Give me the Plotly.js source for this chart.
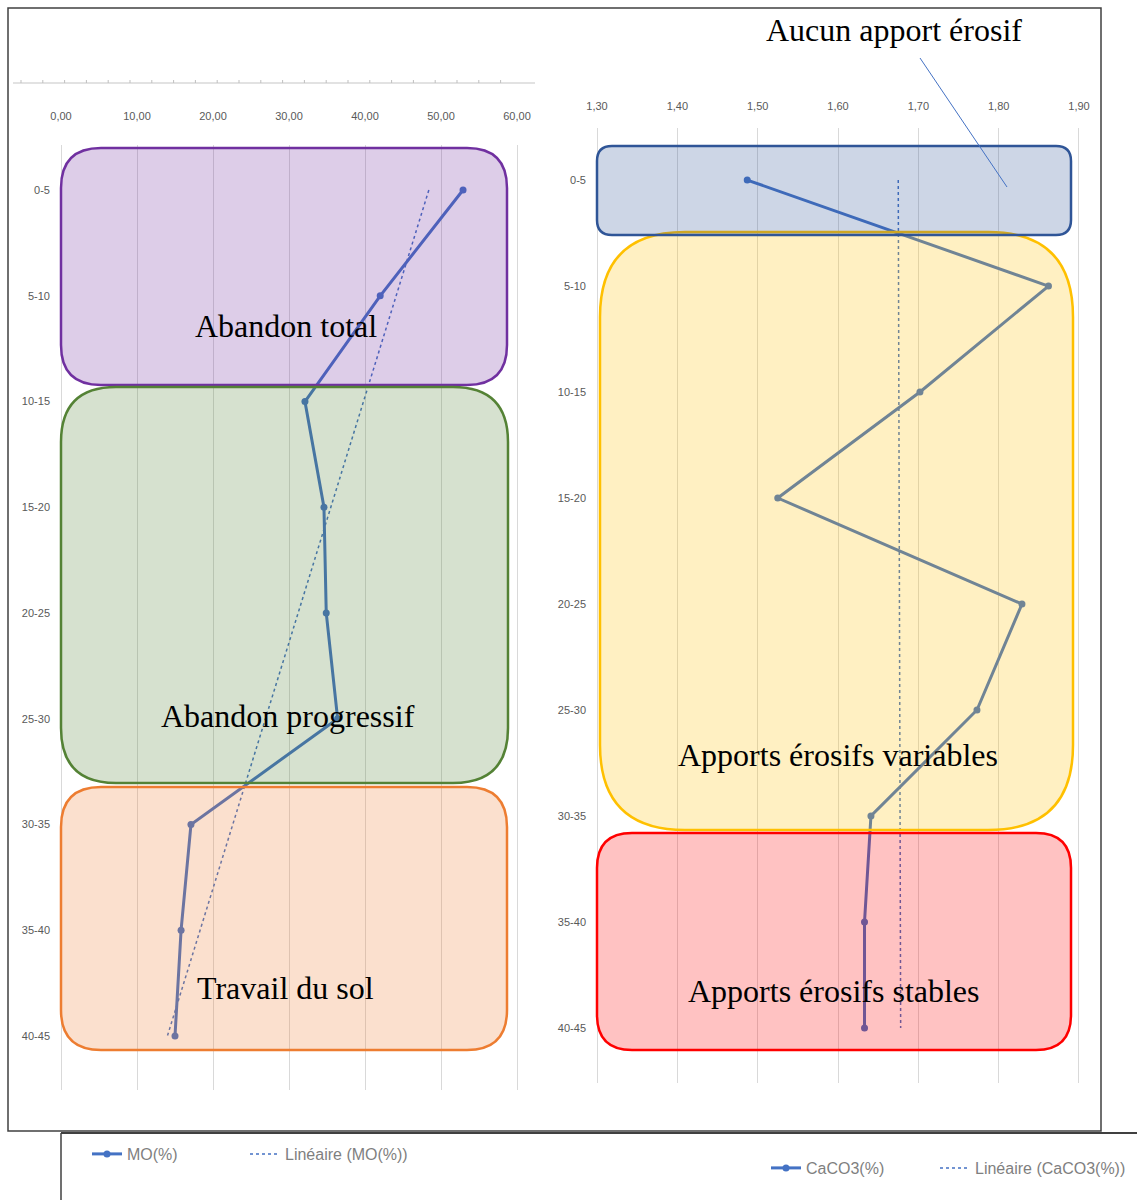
<!DOCTYPE html>
<html>
<head>
<meta charset="utf-8">
<script src="https://cdn.plot.ly/plotly-3.0.1.min.js"></script>
<style>
  body { margin: 0; background: #fff; }
  #graph { width: 1137px; height: 1200px; }
</style>
</head>
<body>
<div id="graph"></div>
<script>
// profondeurs (cm)
var profondeur = ['0-5', '5-10', '10-15', '15-20', '20-25', '25-30', '30-35', '35-40', '40-45'];
// matiere organique (%)
var mo = [52.9, 42.0, 32.1, 34.6, 34.9, 36.4, 17.1, 15.8, 15.0];
// carbonates (%)
var caco3 = [1.487, 1.862, 1.702, 1.525, 1.829, 1.773, 1.641, 1.633, 1.633];
// tendances lineaires (debut / fin)
var trendProf = ['0-5', '40-45'];
var trendMO = [48.4, 14.0];
var trendCaCO3 = [1.675, 1.678];

var W = 1137, H = 1200;
function px(x) { return x / W; }
function py(y) { return 1 - y / H; }

// rectangle arrondi en coordonnees papier, a partir de pixels
function roundRect(x0, y0, x1, y1, r) {
  var p = [];
  p.push('M' + px(x0 + r) + ',' + py(y0));
  p.push('L' + px(x1 - r) + ',' + py(y0));
  p.push('Q' + px(x1) + ',' + py(y0) + ' ' + px(x1) + ',' + py(y0 + r));
  p.push('L' + px(x1) + ',' + py(y1 - r));
  p.push('Q' + px(x1) + ',' + py(y1) + ' ' + px(x1 - r) + ',' + py(y1));
  p.push('L' + px(x0 + r) + ',' + py(y1));
  p.push('Q' + px(x0) + ',' + py(y1) + ' ' + px(x0) + ',' + py(y1 - r));
  p.push('L' + px(x0) + ',' + py(y0 + r));
  p.push('Q' + px(x0) + ',' + py(y0) + ' ' + px(x0 + r) + ',' + py(y0));
  p.push('Z');
  return p.join(' ');
}

function zone(x0, y0, x1, y1, r, rgb) {
  return {
    type: 'path', xref: 'paper', yref: 'paper', layer: 'above',
    path: roundRect(x0, y0, x1, y1, r),
    fillcolor: 'rgba(' + rgb + ',0.24)',
    line: { color: 'rgb(' + rgb + ')', width: 2.5 }
  };
}

function seg(x0, y0, x1, y1, color, width) {
  return {
    type: 'line', xref: 'paper', yref: 'paper', layer: 'above',
    x0: px(x0), y0: py(y0), x1: px(x1), y1: py(y1),
    line: { color: color, width: width }
  };
}

var blue = '#4472C4';

var traces = [
  {
    x: mo, y: profondeur, name: 'MO(%)', type: 'scatter', mode: 'lines+markers',
    xaxis: 'x', yaxis: 'y', legend: 'legend', showlegend: true,
    line: { color: blue, width: 3 }, marker: { color: blue, size: 7 }
  },
  {
    x: trendMO, y: trendProf, name: 'Linéaire (MO(%))', type: 'scatter', mode: 'lines',
    xaxis: 'x', yaxis: 'y', legend: 'legend3', showlegend: true,
    line: { color: blue, width: 1.5, dash: 'dot' }
  },
  {
    x: caco3, y: profondeur, name: 'CaCO3(%)', type: 'scatter', mode: 'lines+markers',
    xaxis: 'x2', yaxis: 'y2', legend: 'legend2', showlegend: true,
    line: { color: blue, width: 3 }, marker: { color: blue, size: 7 }
  },
  {
    x: trendCaCO3, y: trendProf, name: 'Linéaire (CaCO3(%))', type: 'scatter', mode: 'lines',
    xaxis: 'x2', yaxis: 'y2', legend: 'legend4', showlegend: true,
    line: { color: blue, width: 1.5, dash: 'dot' }
  }
];

var tickFont = { family: 'Liberation Sans Narrow, Liberation Sans, sans-serif', size: 11, color: '#595959' };
var legFont = { family: 'Liberation Sans Narrow, Liberation Sans, sans-serif', size: 16, color: '#7F7F7F' };
var grid = '#D9D9D9';

var shapes = [
  // zones gauche
  zone(61, 148, 507, 385, 40, '112,48,160'),
  zone(61, 387, 508, 783, 55, '84,130,53'),
  zone(61, 787, 507, 1050, 40, '237,125,49'),
  // zones droite
  zone(600, 232, 1073, 830, 85, '255,192,0'),
  zone(597, 146, 1071, 235, 15, '47,85,151'),
  zone(597, 833, 1071, 1050, 35, '255,0,0'),
  // trait de l'etiquette
  seg(920, 58, 1007, 187, blue, 1),
  // cadres
  { type: 'rect', xref: 'paper', yref: 'paper', layer: 'above',
    x0: px(8), y0: py(1131), x1: px(1101), y1: py(8),
    line: { color: '#404040', width: 1.5 } },
  seg(61, 1133, 1137, 1133, '#404040', 2),
  seg(61, 1133, 61, 1200, '#404040', 1.5),
  // ancien axe en haut a gauche
  seg(13, 83, 535, 83, grid, 1.5)
];
for (var tx = 21; tx <= 522; tx += 21.8) {
  shapes.push(seg(tx, 80, tx, 83, '#BFBFBF', 1));
}

var serif = { family: 'Liberation Serif, Times New Roman, serif', size: 32, color: '#000' };
function label(text, x, y) {
  return { text: text, xref: 'paper', yref: 'paper', x: px(x), y: py(y),
    xanchor: 'center', yanchor: 'middle', showarrow: false, font: serif };
}

function leg(x, y) {
  return { orientation: 'h', x: px(x), y: py(y), xanchor: 'left', yanchor: 'top',
    visible: true, bgcolor: 'rgba(0,0,0,0)', font: legFont };
}

var layout = {
  width: W, height: H,
  margin: { l: 0, r: 0, t: 0, b: 0 },
  paper_bgcolor: '#fff', plot_bgcolor: 'rgba(0,0,0,0)',
  separators: ', ',
  showlegend: true,
  // axes un peu elargis pour que les quadrillages des bords restent visibles
  xaxis: {
    domain: [px(59), px(519)], range: [-0.263, 60.263], tick0: 0, dtick: 10, tickformat: '.2f',
    side: 'top', anchor: 'y', showgrid: true, gridcolor: grid, gridwidth: 1,
    zeroline: false, showline: false, ticks: '', tickfont: tickFont, ticklabelstandoff: 22
  },
  yaxis: {
    domain: [py(1090), py(145)], type: 'category',
    categoryorder: 'array', categoryarray: profondeur,
    range: [8.511, -0.426], anchor: 'x', showgrid: false, zeroline: false,
    showline: false, ticks: '', tickfont: tickFont, ticklabelstandoff: 8
  },
  xaxis2: {
    domain: [px(595), px(1081)], range: [1.2975, 1.9025], dtick: 0.1, tick0: 1.3, tickformat: '.2f',
    side: 'top', anchor: 'y2', showgrid: true, gridcolor: grid, gridwidth: 1,
    zeroline: false, showline: false, ticks: '', tickfont: tickFont, ticklabelstandoff: 15
  },
  yaxis2: {
    domain: [py(1083), py(128)], type: 'category',
    categoryorder: 'array', categoryarray: profondeur,
    range: [8.519, -0.491], anchor: 'x2', showgrid: false, zeroline: false,
    showline: false, ticks: '', tickfont: tickFont, ticklabelstandoff: 8
  },
  legend: leg(87, 1137),
  legend3: leg(245, 1137),
  legend2: leg(766, 1151),
  legend4: leg(935, 1151),
  shapes: shapes,
  annotations: [
    label('Abandon total', 286, 326),
    label('Abandon progressif', 288, 716),
    label('Travail du sol', 285, 988),
    label('Apports érosifs variables', 838, 755),
    label('Apports érosifs stables', 834, 991),
    label('Aucun apport érosif', 894, 30)
  ]
};

Plotly.newPlot('graph', traces, layout, { displayModeBar: false, staticPlot: true });
</script>
</body>
</html>
